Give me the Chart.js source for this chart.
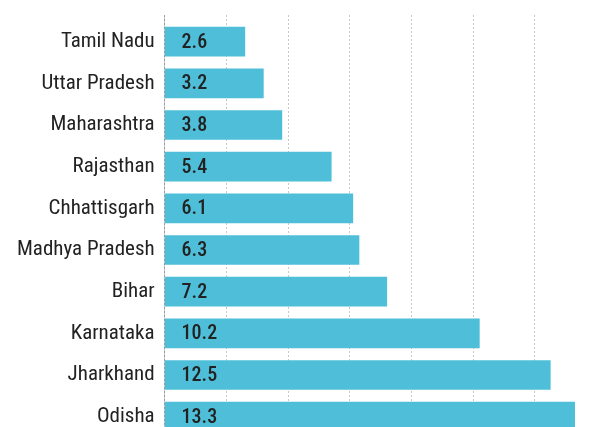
<!DOCTYPE html>
<html>
<head>
<meta charset="utf-8">
<script src="https://cdn.jsdelivr.net/npm/chart.js@4"></script>
<style>
html,body{margin:0;padding:0;background:#fff;overflow:hidden;}
#wrap{width:592px;height:427px;position:relative;overflow:hidden;}
</style>
</head>
<body>
<div id="wrap"><canvas id="c" width="592" height="460"></canvas></div>
<script>
const categories = ["Tamil Nadu","Uttar Pradesh","Maharashtra","Rajasthan","Chhattisgarh","Madhya Pradesh","Bihar","Karnataka","Jharkhand","Odisha"];
const values = [2.6,3.2,3.8,5.4,6.1,6.3,7.2,10.2,12.5,13.3];
const xTicks = [0,2,4,6,8,10,12];

const FONT = "'Roboto Condensed', 'DejaVu Sans Condensed', sans-serif";

const valueLabels = {
  id: 'valueLabels',
  afterDatasetsDraw(chart) {
    const ctx = chart.ctx;
    const meta = chart.getDatasetMeta(0);
    const x0 = chart.scales.x.getPixelForValue(0);
    ctx.save();
    ctx.font = "500 20px " + FONT;
    ctx.fillStyle = '#222';
    ctx.textAlign = 'left';
    ctx.textBaseline = 'middle';
    meta.data.forEach((bar, i) => {
      ctx.fillText(values[i].toFixed(1), x0 + 17, bar.y + 1);
    });
    ctx.restore();
  }
};

new Chart(document.getElementById('c'), {
  type: 'bar',
  plugins: [valueLabels],
  data: {
    datasets: [{
      data: values.map((v, i) => ({x: v, y: i})),
      backgroundColor: '#4fbfd9',
      borderWidth: 0,
      barThickness: 29
    }]
  },
  options: {
    indexAxis: 'y',
    responsive: false,
    animation: false,
    layout: {padding: {top: 15, right: 17, bottom: 0, left: 7}},
    plugins: {legend: {display: false}, tooltip: {enabled: false}},
    scales: {
      x: {
        type: 'linear',
        min: 0,
        max: 13.3,
        position: 'bottom',
        afterBuildTicks: (s) => { s.ticks = xTicks.map(v => ({value: v})); },
        afterFit: (s) => { s.height = 0; s.paddingLeft = 0; s.paddingRight = 0; },
        ticks: {display: false},
        grid: {color: '#c8c8c8', lineWidth: 1, drawTicks: false},
        border: {display: false, dash: [2,2]}
      },
      y: {
        type: 'linear',
        reverse: true,
        offset: false,
        min: -0.64,
        max: 10.04,
        z: 1,
        afterBuildTicks: (s) => { s.ticks = categories.map((c, i) => ({value: i})); },
        afterFit: (s) => { s.paddingTop = 0; s.paddingBottom = 0; },
        ticks: {
          callback: (v) => categories[v],
          font: {family: FONT, size: 21},
          color: '#222',
          padding: 10
        },
        grid: {display: false, drawTicks: false},
        border: {display: true, color: 'rgba(0,0,0,0.22)', width: 1}
      }
    }
  }
});
</script>
</body>
</html>
